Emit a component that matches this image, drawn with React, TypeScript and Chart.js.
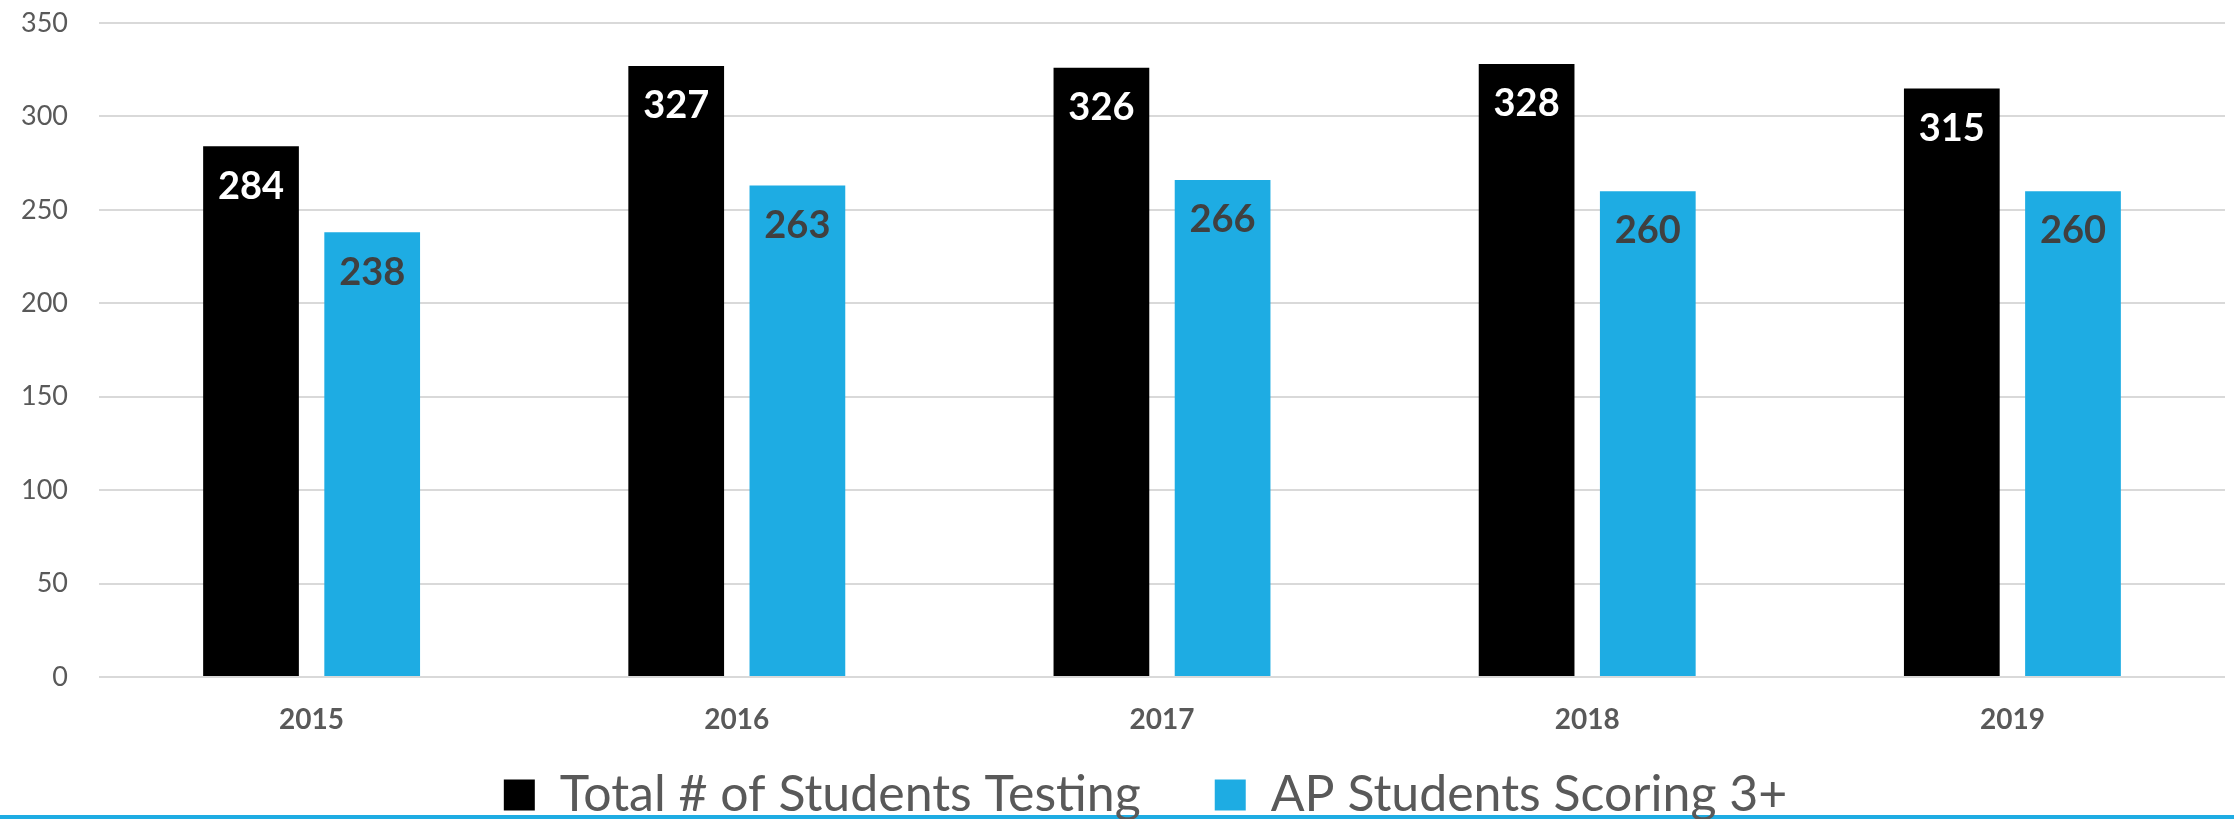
import React, { useEffect, useRef } from "react";
import { Chart, registerables } from "chart.js";

Chart.register(...registerables);

const years = ["2015", "2016", "2017", "2018", "2019"];
const totalTesting = [284, 327, 326, 328, 315];
const scoring3Plus = [238, 263, 266, 260, 260];
const seriesNames = ["Total # of Students Testing", "AP Students Scoring 3+"];
const yTicks = [0, 50, 100, 150, 200, 250, 300, 350];

const BLACK = "#000000";
const BLUE = "#1EACE3";
const labelColors = ["#FFFFFF", "#404040"];

const barLabelPlugin = {
  id: "barLabels",
  afterDatasetsDraw(chart: any) {
    const ctx = chart.ctx;
    ctx.save();
    ctx.font = "bold 38px Lato";
    ctx.textAlign = "center";
    ctx.textBaseline = "middle";
    chart.data.datasets.forEach((ds: any, i: number) => {
      const meta = chart.getDatasetMeta(i);
      ctx.fillStyle = labelColors[i];
      meta.data.forEach((el: any, j: number) => {
        ctx.fillText(String(ds.data[j]), el.x, el.y + 40);
      });
    });
    ctx.restore();
  },
};

const bottomLinePlugin = {
  id: "bottomLine",
  beforeDraw(chart: any) {
    const ctx = chart.ctx;
    ctx.save();
    ctx.fillStyle = BLUE;
    ctx.fillRect(0, chart.height - 4, chart.width, 4);
    ctx.restore();
  },
};

const legendShiftPlugin = {
  id: "legendShift",
  afterLayout(chart: any) {
    if (chart.legend) {
      chart.legend.left += 22;
      chart.legend.right += 22;
    }
  },
};

export default function App() {
  const ref = useRef<HTMLCanvasElement | null>(null);
  useEffect(() => {
    document.body.style.margin = "0";
    const canvas = ref.current!;
    const chart = new Chart(canvas, {
      type: "bar",
      data: {
        labels: years,
        datasets: [
          {
            label: seriesNames[0],
            data: totalTesting,
            backgroundColor: BLACK,
            categoryPercentage: 0.57,
            barPercentage: 0.79,
          },
          {
            label: seriesNames[1],
            data: scoring3Plus,
            backgroundColor: BLUE,
            categoryPercentage: 0.57,
            barPercentage: 0.79,
          },
        ],
      },
      options: {
        responsive: false,
        animation: false,
        devicePixelRatio: 1,
        layout: { padding: { left: 22, right: 9, top: 23, bottom: -11 } },
        font: { family: "Lato" },
        plugins: {
          tooltip: { enabled: false },
          legend: {
            position: "bottom",
            labels: {
              font: { family: "Lato", size: 50 },
              color: "#595959",
              boxWidth: 31,
              boxHeight: 31,
              padding: 10,
              generateLabels: (c: any) => {
                const items = Chart.defaults.plugins.legend.labels.generateLabels(c);
                return items.map((it: any, i: number) => ({
                  ...it,
                  text: i === 0 ? it.text + "     " : it.text,
                  fontColor: "#595959",
                  lineWidth: 0,
                }));
              },
            },
          },
        },
        scales: {
          x: {
            grid: { display: false, drawTicks: false },
            border: { display: false },
            afterFit: (axis: any) => {
              axis.height = 83;
            },
            ticks: {
              font: { family: "Lato", size: 28, weight: "bold" },
              color: "#595959",
              padding: 26,
            },
          },
          y: {
            min: 0,
            max: 350,
            afterBuildTicks: (axis: any) => {
              axis.ticks = yTicks.map((v) => ({ value: v }));
            },
            afterFit: (axis: any) => {
              axis.width = 77;
              axis.paddingTop = 0;
              axis.paddingBottom = 0;
            },
            grid: { color: "#D9D9D9", lineWidth: 2, drawTicks: false },
            border: { display: false },
            ticks: {
              font: { family: "Lato", size: 27 },
              color: "#595959",
              padding: 31,
            },
          },
        },
      },
      plugins: [barLabelPlugin, bottomLinePlugin, legendShiftPlugin],
    });
    return () => chart.destroy();
  }, []);
  return <canvas ref={ref} width={2234} height={819} style={{ display: "block" }} />;
}
